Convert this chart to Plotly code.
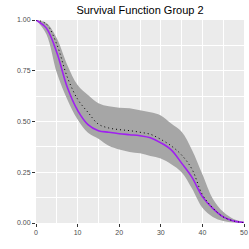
import plotly.graph_objects as go

time = [0, 2.5, 5, 7.5, 10, 12.5, 15, 17.5, 20, 22.5, 25, 27.5, 30, 32.5, 35, 37.5, 40, 42.5, 45, 47.5, 50]
surv_fit = [1.0, 0.96, 0.84, 0.67, 0.555, 0.485, 0.455, 0.447, 0.44, 0.435, 0.43, 0.42, 0.395, 0.36, 0.295, 0.225, 0.13, 0.072, 0.03, 0.01, 0.002]
surv_true = [1.0, 0.98, 0.88, 0.72, 0.61, 0.545, 0.487, 0.468, 0.46, 0.455, 0.447, 0.437, 0.412, 0.38, 0.335, 0.265, 0.14, 0.074, 0.03, 0.01, 0.002]
upper = [1.0, 0.985, 0.91, 0.78, 0.68, 0.63, 0.59, 0.575, 0.568, 0.565, 0.555, 0.545, 0.53, 0.49, 0.45, 0.36, 0.24, 0.12, 0.055, 0.02, 0.005]
lower = [1.0, 0.93, 0.74, 0.61, 0.51, 0.445, 0.415, 0.38, 0.362, 0.35, 0.343, 0.33, 0.318, 0.29, 0.25, 0.17, 0.075, 0.03, 0.01, 0.002, 0.0]

x_ticks = [0, 10, 20, 30, 40, 50]
y_ticks = [0, 0.25, 0.5, 0.75, 1.0]
y_tick_labels = ["0.00", "0.25", "0.50", "0.75", "1.00"]

fig = go.Figure()
fig.add_trace(go.Scatter(x=time, y=upper, mode="lines", line=dict(width=0, shape="spline"),
                         showlegend=False, hoverinfo="skip"))
fig.add_trace(go.Scatter(x=time, y=lower, mode="lines", line=dict(width=0, shape="spline"),
                         fill="tonexty", fillcolor="#A6A6A6", showlegend=False, hoverinfo="skip"))
fig.add_trace(go.Scatter(x=time, y=surv_fit, mode="lines",
                         line=dict(color="#A020F0", width=1.6, shape="spline"), showlegend=False))
fig.add_trace(go.Scatter(x=time, y=surv_true, mode="lines",
                         line=dict(color="black", width=1, dash="1px,3px", shape="spline"), showlegend=False))

fig.update_layout(
    width=249, height=249,
    margin=dict(l=36, r=5, t=20, b=26),
    paper_bgcolor="white", plot_bgcolor="#EBEBEB",
    font=dict(family="Liberation Sans, Arial, sans-serif"),
    title=dict(text="Survival Function Group 2", x=140/249, xanchor="center", y=1 - 10/249, yanchor="middle",
               font=dict(size=11, color="black")),
)
fig.update_xaxes(range=[0, 50], tickvals=x_ticks, ticks="outside", ticklen=3, tickcolor="#333333",
                 tickfont=dict(size=7, color="#4D4D4D"), showgrid=True, gridcolor="white", gridwidth=1,
                 minor=dict(dtick=5, showgrid=True, gridcolor="white", gridwidth=0.5),
                 zeroline=False, showline=False, automargin=False)
fig.update_yaxes(range=[0, 1], tickvals=y_ticks, ticktext=y_tick_labels, ticks="outside", ticklen=3,
                 tickcolor="#333333", tickfont=dict(size=7, color="#4D4D4D"), showgrid=True,
                 gridcolor="white", gridwidth=1,
                 minor=dict(dtick=0.125, showgrid=True, gridcolor="white", gridwidth=0.5),
                 zeroline=False, showline=False, automargin=False)

fig.write_html("out.html", config={"displayModeBar": False},
               post_script="document.body.style.margin='0';")
